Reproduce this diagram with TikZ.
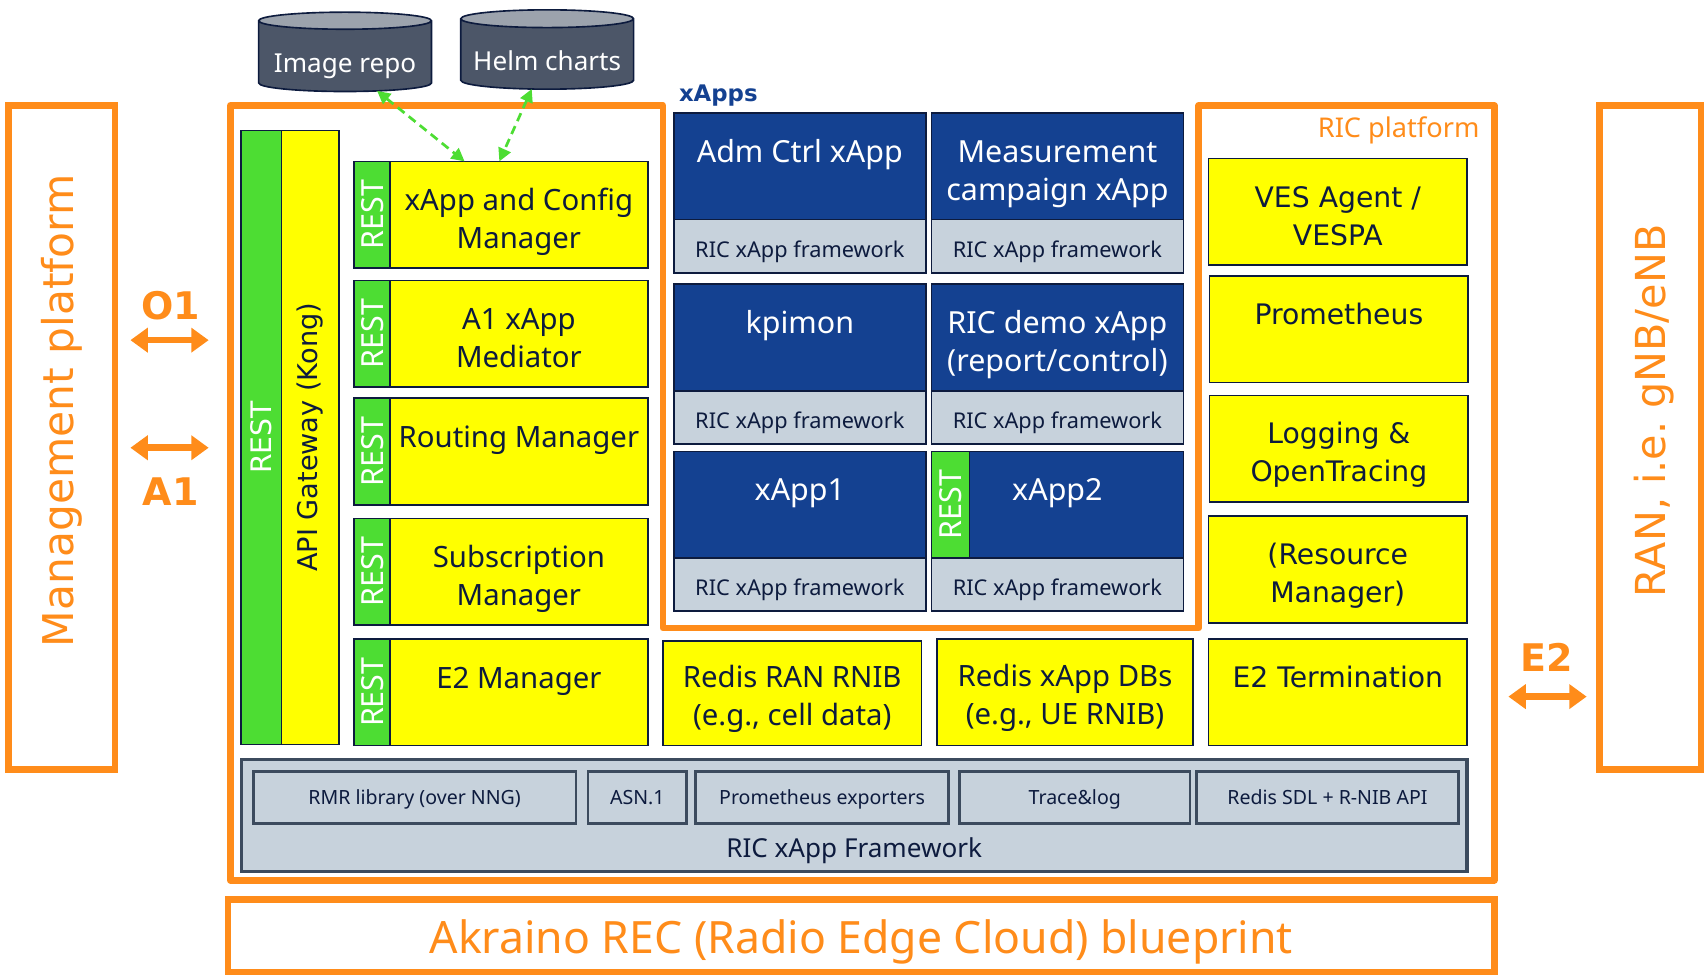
\documentclass[tikz,border=0pt]{standalone}
\usepackage{fontspec}
\setmainfont{Noto Sans}
\newfontfamily\verdfont{DejaVu Sans}
\usepackage{graphicx}
\usetikzlibrary{positioning,shapes.geometric,arrows.meta}

\definecolor{ricorange}{HTML}{FF8C1A}
\definecolor{ricyellow}{HTML}{FFFF00}
\definecolor{ricgreen}{HTML}{4DDD33}
\definecolor{ricblue}{HTML}{144191}
\definecolor{ricgray}{HTML}{C7D2DC}
\definecolor{ricnavy}{HTML}{0D1B3E}
\definecolor{ricslate}{HTML}{3C4B5E}
\definecolor{cylbody}{HTML}{4C5668}
\definecolor{cyltop}{HTML}{9CA3AD}

\tikzset{
  flat/.style={inner sep=0pt, outer sep=0pt, align=center},
  ybox/.style={flat, draw=ricnavy, fill=ricyellow, line width=1.5pt, text=ricnavy,
    minimum height=98pt, text height=63pt, text depth=0pt, font=\fontsize{27}{35}\selectfont},
  vbox/.style={ybox, minimum width=238pt, text height=61pt, font=\verdfont\fontsize{26}{35}\selectfont},
  appbox/.style={flat, draw=ricnavy, fill=ricblue, line width=1.5pt, text=white,
    minimum width=232pt, minimum height=98pt, text height=63pt, text depth=0pt,
    font=\fontsize{28}{35}\selectfont},
  fwbox/.style={flat, draw=ricnavy, fill=ricgray, line width=1.5pt, text=ricnavy,
    minimum width=232pt, minimum height=49pt, text height=20pt, text depth=0pt,
    font=\fontsize{20}{24}\selectfont},
  libbox/.style={flat, draw=ricslate, fill=ricgray, line width=2.5pt, text=ricnavy,
    minimum height=48pt, text height=12.9pt, text depth=0pt, font=\fontsize{18}{22}\selectfont},
  restbox/.style={flat, draw=ricnavy, fill=ricgreen, line width=1.5pt, text=white,
    minimum width=33pt, minimum height=98pt, font=\fontsize{28}{32}\selectfont},
  repo/.style={flat, cylinder, shape border rotate=90, aspect=0.12, draw=ricnavy,
    line width=1.5pt, cylinder uses custom fill, cylinder body fill=cylbody,
    cylinder end fill=cyltop, minimum width=159pt, minimum height=73pt,
    text=white, text height=29pt, text depth=0pt, font=\fontsize{24}{28}\selectfont},
  sidebox/.style={flat, draw=ricorange, line width=6pt, fill=white},
  sidetext/.style={flat, text=ricorange, font=\verdfont\fontsize{39}{44}\selectfont},
  iflabel/.style={flat, text=ricorange, font=\verdfont\bfseries\fontsize{35}{40}\selectfont},
  ifarrow/.style={draw=ricorange, line width=6pt,
    {Triangle[width=22pt,length=16pt]}-{Triangle[width=22pt,length=16pt]}},
  repoarrow/.style={draw=ricgreen, line width=2.5pt, dash pattern=on 8pt off 5pt,
    {Triangle[width=12pt,length=12pt]}-{Triangle[width=12pt,length=12pt]}},
}

\begin{document}
\begin{tikzpicture}[x=1pt,y=-1pt]
\useasboundingbox (0,0) rectangle (1568,898);

% Repositories
\node[repo] (imgrepo) at (317.5,52) {Image repo};
\node[repo] (helm) at (503.5,50) {Helm charts};

% RIC platform frame, xApps area cut out of the top
\draw[ricorange, line width=6pt, line join=round]
  (212,97) -- (610,97) -- (610,578) -- (1103,578) -- (1103,97)
  -- (1375,97) -- (1375,810) -- (212,810) -- cycle;
\node[flat, text=ricorange, font=\fontsize{25}{30}\selectfont] (riclbl) at (1287,120) {RIC platform};
\node[flat, text=ricblue, font=\verdfont\bfseries\fontsize{21}{26}\selectfont] (xappslbl) at (661,88) {xApps};

% API gateway
\node[restbox, minimum width=37pt, minimum height=565pt, font=\verdfont\fontsize{26}{30}\selectfont]
  (gwrest) at (240.5,402.5) {\rotatebox{90}{REST}};
\node[flat, draw=ricnavy, fill=ricyellow, line width=1.5pt, text=ricnavy, minimum width=53pt,
  minimum height=565pt, right=0pt of gwrest, font=\verdfont\fontsize{25}{30}\selectfont]
  (gw) {\rotatebox{90}{API Gateway (Kong)}};

% Platform managers
\node[restbox] (rest1) at (342.5,197.5) {\rotatebox{90}{REST}};
\node[ybox, minimum width=237pt, right=0pt of rest1] (appmgr) {xApp and Config\\Manager};
\node[restbox] (rest2) at (342.5,307) {\rotatebox{90}{REST}};
\node[ybox, minimum width=237pt, right=0pt of rest2] (a1med) {A1 xApp\\Mediator};
\node[restbox] (rest3) at (342.5,415.5) {\rotatebox{90}{REST}};
\node[ybox, minimum width=237pt, right=0pt of rest3] (rtmgr) {Routing Manager\\\mbox{}};
\node[restbox] (rest4) at (342.5,526) {\rotatebox{90}{REST}};
\node[ybox, minimum width=237pt, right=0pt of rest4] (submgr) {Subscription\\Manager};
\node[restbox] (rest5) at (342.5,637) {\rotatebox{90}{REST}};
\node[ybox, minimum width=237pt, right=0pt of rest5] (e2mgr) {E2 Manager\\\mbox{}};

% xApps
\node[appbox] (admctrl) at (736,153) {Adm Ctrl xApp\\\mbox{}};
\node[fwbox, below=0pt of admctrl] (admctrlfw) {RIC xApp framework};
\node[appbox] (meas) at (973,153) {Measurement\\campaign xApp};
\node[fwbox, below=0pt of meas] (measfw) {RIC xApp framework};
\node[appbox] (kpimon) at (736,310.5) {kpimon\\\mbox{}};
\node[fwbox, below=0pt of kpimon] (kpimonfw) {RIC xApp framework};
\node[appbox] (demo) at (973,310.5) {RIC demo xApp\\(report/control)};
\node[fwbox, below=0pt of demo] (demofw) {RIC xApp framework};
\node[appbox] (xapp1) at (736,464.5) {xApp1\\\mbox{}};
\node[fwbox, below=0pt of xapp1] (xapp1fw) {RIC xApp framework};
\node[appbox] (xapp2) at (973,464.5) {xApp2\\\mbox{}};
\node[fwbox, below=0pt of xapp2] (xapp2fw) {RIC xApp framework};
\node[restbox, minimum width=35pt, anchor=west] (rest6) at (xapp2.west) {\rotatebox{90}{REST}};

% Databases
\node[ybox, minimum width=238pt, minimum height=96pt, text height=59pt] (ranrnib) at (729,638)
  {Redis RAN RNIB\\(e.g., cell data)};
\node[ybox, minimum width=236pt, text height=59pt] (xappdb) at (980,637)
  {Redis xApp DBs\\(e.g., UE RNIB)};

% Platform services
\node[vbox] (ves) at (1231,195) {VES Agent /\\VESPA};
\node[vbox] (prom) at (1232,303) {Prometheus\\\mbox{}};
\node[vbox] (logging) at (1232,413) {Logging \&\\OpenTracing};
\node[vbox] (resmgr) at (1231,524) {(Resource\\Manager)};
\node[vbox] (e2term) at (1231,637) {E2 Termination\\\mbox{}};

% Framework libraries
\node[flat, draw=ricslate, fill=ricgray, line width=3pt, minimum width=1128pt, minimum height=103pt]
  (xappfw) at (786,750.5) {};
\node[flat, text=ricnavy, font=\fontsize{24}{28}\selectfont] (xappfwlbl) at (786,783) {RIC xApp Framework};
\node[libbox, minimum width=297pt] (rmr) at (381.5,734) {RMR library (over NNG)};
\node[libbox, minimum width=91pt] (asn) at (586.5,734) {ASN.1};
\node[libbox, minimum width=233pt] (promexp) at (756.5,734) {Prometheus exporters};
\node[libbox, minimum width=212pt] (trace) at (989,734) {Trace\&log};
\node[libbox, minimum width=241pt] (sdl) at (1221.5,734) {Redis SDL + R-NIB API};

% Outside the platform
\node[sidebox, minimum width=98pt, minimum height=611pt] (mgmt) at (57,402.5) {};
\node[sidetext, rotate=90] (mgmtlbl) at (57,378) {Management platform};
\node[sidebox, minimum width=93pt, minimum height=611pt] (ran) at (1518.5,402.5) {};
\node[sidetext, rotate=90, font=\verdfont\fontsize{38}{44}\selectfont] (ranlbl) at (1522,378) {RAN, i.e.\ gNB/eNB};
\node[sidebox, minimum width=1165pt, minimum height=67pt, text=ricorange, text height=33.4pt,
  text depth=0pt, font=\fontsize{41}{48}\selectfont] (rec) at (792.5,861)
  {Akraino REC (Radio Edge Cloud) blueprint};

% Interfaces
\node[iflabel] (o1lbl) at (157,281) {O1};
\node[iflabel] (a1lbl) at (157,452) {A1};
\node[iflabel] (e2lbl) at (1423,605) {E2};
\coordinate (o1) at (156,313);
\coordinate (a1) at (156,412);
\coordinate (e2) at (1424,641);
\draw[ifarrow, shorten <=14pt, shorten >=30pt] (mgmt.east |- o1) -- (gwrest.west |- o1);
\draw[ifarrow, shorten <=14pt, shorten >=30pt] (mgmt.east |- a1) -- (gwrest.west |- a1);
\draw[ifarrow, shorten <=38pt, shorten >=12pt] (e2term.east |- e2) -- (ran.west |- e2);

\draw[repoarrow] (imgrepo.-47) -- ([xshift=-50pt]appmgr.north);
\draw[repoarrow] (helm.-114) -- ([xshift=-18pt]appmgr.north);

\end{tikzpicture}
\end{document}
